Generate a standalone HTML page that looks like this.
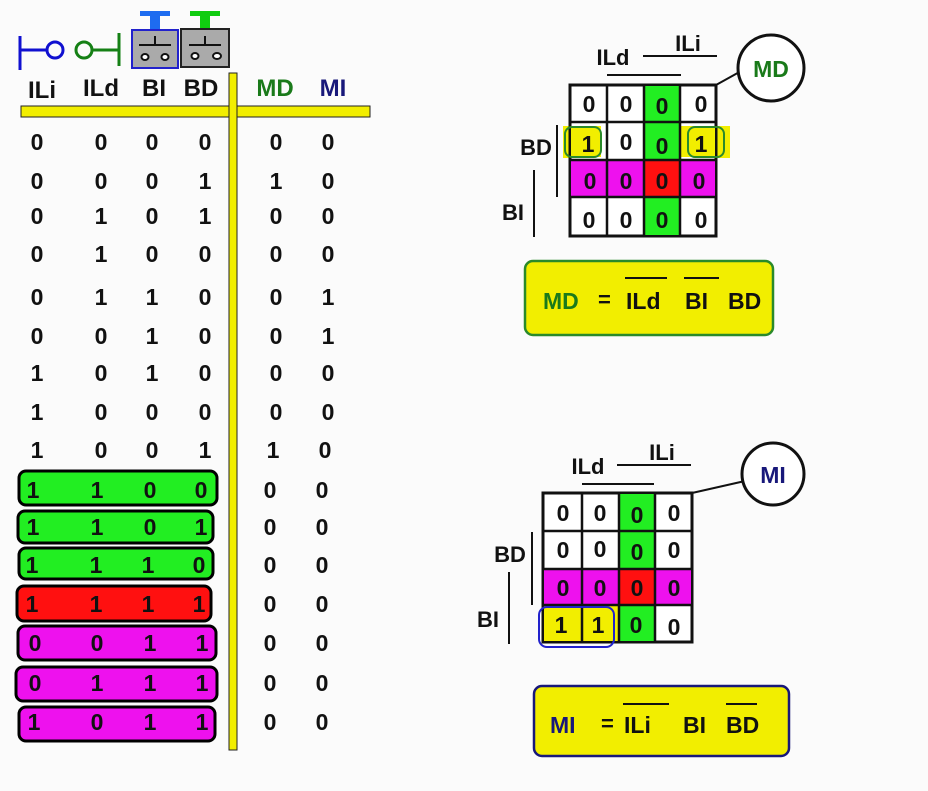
<!DOCTYPE html>
<html><head><style>
html,body{margin:0;padding:0;background:#fbfbfb;}
svg{display:block;}
text{font-family:"Liberation Sans",sans-serif;font-weight:bold;}
</style></head><body>
<svg width="928" height="791" viewBox="0 0 928 791" xmlns="http://www.w3.org/2000/svg">
<rect width="928" height="791" fill="#fbfbfb"/>
<!-- icons -->
<g stroke="#1010d0" stroke-width="3" fill="none">
<line x1="20" y1="36" x2="20" y2="70"/><line x1="20" y1="50" x2="46" y2="50"/><circle cx="55" cy="50" r="8"/>
</g>
<g stroke="#158015" stroke-width="3" fill="none">
<circle cx="84" cy="50" r="8"/><line x1="92" y1="50" x2="119" y2="50"/><line x1="119" y1="33" x2="119" y2="66"/>
</g>
<rect x="140" y="11" width="30" height="5" fill="#1e6cf0"/><rect x="150" y="16" width="10" height="14" fill="#1e6cf0"/>
<rect x="132" y="30" width="46" height="38" fill="#aaaaaa" stroke="#2222cc" stroke-width="2"/>
<rect x="190" y="11" width="30" height="5" fill="#10cc10"/><rect x="200" y="16" width="10" height="12" fill="#10cc10"/>
<rect x="181" y="29" width="48" height="38" fill="#aaaaaa" stroke="#222" stroke-width="2"/>
<g stroke="#111" stroke-width="2" fill="#fff">
<line x1="139" y1="45" x2="171" y2="45"/><line x1="155" y1="36" x2="155" y2="45"/>
<ellipse cx="145" cy="57" rx="3.5" ry="3"/><ellipse cx="165" cy="57" rx="3.5" ry="3"/>
<line x1="189" y1="45" x2="221" y2="45"/><line x1="205" y1="36" x2="205" y2="45"/>
<ellipse cx="195" cy="56" rx="3.5" ry="3"/><ellipse cx="217" cy="56" rx="4" ry="3"/>
</g>
<!-- yellow bars -->
<rect x="21" y="106" width="349" height="11" fill="#f2ee00" stroke="#222" stroke-width="1"/>
<rect x="229" y="73" width="8" height="677" fill="#f2ee00" stroke="#222" stroke-width="1"/>
<rect x="230" y="107" width="6" height="9" fill="#f2ee00"/>
<!-- headers -->
<g font-size="24" fill="#111" text-anchor="middle">
<text x="42" y="98">ILi</text><text x="101" y="96">ILd</text><text x="154" y="96">BI</text><text x="201" y="96">BD</text>
<text x="275" y="96" fill="#1a7a1a">MD</text><text x="333" y="96" fill="#18187a">MI</text>
</g>
<!-- highlight bars -->
<g stroke="#000" stroke-width="3">
<rect x="19" y="471" width="198" height="34" rx="7" fill="#22ee22"/>
<rect x="18" y="511" width="195" height="32" rx="7" fill="#22ee22"/>
<rect x="19" y="548" width="194" height="31" rx="7" fill="#22ee22"/>
<rect x="17" y="586" width="194" height="35" rx="7" fill="#ff1010"/>
<rect x="18" y="626" width="198" height="34" rx="7" fill="#ee11ee"/>
<rect x="16" y="667" width="201" height="34" rx="7" fill="#ee11ee"/>
<rect x="19" y="707" width="196" height="34" rx="7" fill="#ee11ee"/>
</g>
<g font-size="23" fill="#111" text-anchor="middle">
<text x="37" y="150">0</text><text x="101" y="150">0</text><text x="152" y="150">0</text><text x="205" y="150">0</text><text x="276" y="150">0</text><text x="328" y="150">0</text>
<text x="37" y="189">0</text><text x="101" y="189">0</text><text x="152" y="189">0</text><text x="205" y="189">1</text><text x="276" y="189">1</text><text x="328" y="189">0</text>
<text x="37" y="224">0</text><text x="101" y="224">1</text><text x="152" y="224">0</text><text x="205" y="224">1</text><text x="276" y="224">0</text><text x="328" y="224">0</text>
<text x="37" y="262">0</text><text x="101" y="262">1</text><text x="152" y="262">0</text><text x="205" y="262">0</text><text x="276" y="262">0</text><text x="328" y="262">0</text>
<text x="37" y="305">0</text><text x="101" y="305">1</text><text x="152" y="305">1</text><text x="205" y="305">0</text><text x="276" y="305">0</text><text x="328" y="305">1</text>
<text x="37" y="344">0</text><text x="101" y="344">0</text><text x="152" y="344">1</text><text x="205" y="344">0</text><text x="276" y="344">0</text><text x="328" y="344">1</text>
<text x="37" y="381">1</text><text x="101" y="381">0</text><text x="152" y="381">1</text><text x="205" y="381">0</text><text x="276" y="381">0</text><text x="328" y="381">0</text>
<text x="37" y="420">1</text><text x="101" y="420">0</text><text x="152" y="420">0</text><text x="205" y="420">0</text><text x="276" y="420">0</text><text x="328" y="420">0</text>
<text x="37" y="458">1</text><text x="101" y="458">0</text><text x="152" y="458">0</text><text x="205" y="458">1</text><text x="273" y="458">1</text><text x="325" y="458">0</text>
<text x="33" y="498">1</text><text x="97" y="498">1</text><text x="150" y="498">0</text><text x="201" y="498">0</text><text x="270" y="498">0</text><text x="322" y="498">0</text>
<text x="33" y="535">1</text><text x="97" y="535">1</text><text x="150" y="535">0</text><text x="201" y="535">1</text><text x="270" y="535">0</text><text x="322" y="535">0</text>
<text x="32" y="573">1</text><text x="96" y="573">1</text><text x="148" y="573">1</text><text x="199" y="573">0</text><text x="270" y="573">0</text><text x="322" y="573">0</text>
<text x="32" y="612">1</text><text x="96" y="612">1</text><text x="148" y="612">1</text><text x="199" y="612">1</text><text x="270" y="612">0</text><text x="322" y="612">0</text>
<text x="35" y="651">0</text><text x="97" y="651">0</text><text x="150" y="651">1</text><text x="202" y="651">1</text><text x="270" y="651">0</text><text x="322" y="651">0</text>
<text x="35" y="691">0</text><text x="97" y="691">1</text><text x="150" y="691">1</text><text x="202" y="691">1</text><text x="270" y="691">0</text><text x="322" y="691">0</text>
<text x="34" y="730">1</text><text x="97" y="730">0</text><text x="150" y="730">1</text><text x="202" y="730">1</text><text x="270" y="730">0</text><text x="322" y="730">0</text>
</g>

<!-- KMAP 1 -->
<g font-size="22" fill="#111" text-anchor="middle">
<text x="613" y="65">ILd</text><text x="688" y="51">ILi</text>
<text x="536" y="155">BD</text><text x="513" y="220">BI</text>
</g>
<g stroke="#111" stroke-width="2">
<line x1="643" y1="56" x2="717" y2="56"/><line x1="607" y1="75" x2="681" y2="75"/>
<line x1="557" y1="125" x2="557" y2="197"/><line x1="534" y1="170" x2="534" y2="237"/>
<line x1="716" y1="85" x2="743" y2="70"/>
</g>
<circle cx="771" cy="68" r="33" fill="#fff" stroke="#111" stroke-width="3"/>
<text x="771" y="77" font-size="23" fill="#1a7a1a" text-anchor="middle">MD</text>
<rect x="563" y="126" width="38" height="32" fill="#f2ee00"/>
<rect x="688" y="126" width="42" height="32" fill="#f2ee00"/>
<rect x="570" y="85" width="146" height="151" fill="#fff" stroke="#111" stroke-width="3"/>
<rect x="571" y="126" width="30" height="31" fill="#f2ee00"/>
<rect x="680" y="126" width="35" height="31" fill="#f2ee00"/>
<rect x="644" y="86" width="36" height="149" fill="#22ee22"/>
<rect x="571" y="160" width="144" height="37" fill="#ee11ee"/>
<rect x="644" y="160" width="36" height="37" fill="#ff1010"/>
<g stroke="#111" stroke-width="2.5">
<line x1="607" y1="85" x2="607" y2="236"/><line x1="644" y1="85" x2="644" y2="236"/><line x1="680" y1="85" x2="680" y2="236"/>
<line x1="570" y1="122" x2="716" y2="122"/><line x1="570" y1="160" x2="716" y2="160"/><line x1="570" y1="197" x2="716" y2="197"/>
</g>
<rect x="565" y="127" width="36" height="30" rx="7" fill="none" stroke="#2a8a2a" stroke-width="2"/>
<rect x="688" y="127" width="36" height="30" rx="7" fill="none" stroke="#2a8a2a" stroke-width="2"/>
<g font-size="23" fill="#111" text-anchor="middle">
<text x="589" y="112">0</text><text x="626" y="112">0</text><text x="662" y="114">0</text><text x="701" y="112">0</text>
<text x="588" y="152">1</text><text x="626" y="150">0</text><text x="662" y="154">0</text><text x="701" y="152">1</text>
<text x="590" y="189">0</text><text x="626" y="189">0</text><text x="662" y="189">0</text><text x="699" y="189">0</text>
<text x="589" y="228">0</text><text x="626" y="228">0</text><text x="662" y="228">0</text><text x="701" y="228">0</text>
</g>
<rect x="525" y="261" width="248" height="74" rx="8" fill="#f2ee00" stroke="#2a8a2a" stroke-width="2.5"/>
<text x="543" y="309" font-size="23" fill="#1a7a1a">MD</text>
<text x="598" y="307" font-size="22" fill="#111">=</text>
<text x="626" y="309" font-size="23" fill="#111">ILd</text>
<text x="685" y="309" font-size="23" fill="#111">BI</text>
<text x="728" y="309" font-size="23" fill="#111">BD</text>
<g stroke="#111" stroke-width="2"><line x1="625" y1="278" x2="667" y2="278"/><line x1="684" y1="278" x2="719" y2="278"/></g>

<!-- KMAP 2 -->
<g font-size="22" fill="#111" text-anchor="middle">
<text x="588" y="474">ILd</text><text x="662" y="460">ILi</text>
<text x="510" y="562">BD</text><text x="488" y="627">BI</text>
</g>
<g stroke="#111" stroke-width="2">
<line x1="617" y1="465" x2="691" y2="465"/><line x1="582" y1="484" x2="654" y2="484"/>
<line x1="532" y1="532" x2="532" y2="605"/><line x1="509" y1="572" x2="509" y2="644"/>
<line x1="692" y1="493" x2="745" y2="481"/>
</g>
<circle cx="773" cy="474" r="31" fill="#fff" stroke="#111" stroke-width="3"/>
<text x="773" y="483" font-size="23" fill="#18187a" text-anchor="middle">MI</text>
<rect x="543" y="493" width="149" height="149" fill="#fff" stroke="#111" stroke-width="3"/>
<rect x="619" y="494" width="36" height="147" fill="#22ee22"/>
<rect x="544" y="569" width="147" height="36" fill="#ee11ee"/>
<rect x="619" y="569" width="36" height="36" fill="#ff1010"/>
<rect x="544" y="606" width="74" height="35" fill="#f2ee00"/>
<g stroke="#111" stroke-width="2.5">
<line x1="582" y1="493" x2="582" y2="642"/><line x1="619" y1="493" x2="619" y2="642"/><line x1="655" y1="493" x2="655" y2="642"/>
<line x1="543" y1="531" x2="692" y2="531"/><line x1="543" y1="569" x2="692" y2="569"/><line x1="543" y1="605" x2="692" y2="605"/>
</g>
<rect x="539" y="607" width="75" height="40" rx="8" fill="none" stroke="#2222cc" stroke-width="2"/>
<g font-size="23" fill="#111" text-anchor="middle">
<text x="563" y="521">0</text><text x="600" y="521">0</text><text x="637" y="523">0</text><text x="674" y="521">0</text>
<text x="563" y="558">0</text><text x="600" y="557">0</text><text x="637" y="560">0</text><text x="674" y="558">0</text>
<text x="563" y="596">0</text><text x="600" y="596">0</text><text x="637" y="596">0</text><text x="674" y="596">0</text>
<text x="561" y="633">1</text><text x="598" y="633">1</text><text x="636" y="633">0</text><text x="674" y="635">0</text>
</g>
<rect x="534" y="686" width="255" height="70" rx="8" fill="#f2ee00" stroke="#18187a" stroke-width="2.5"/>
<text x="550" y="733" font-size="23" fill="#18187a">MI</text>
<text x="601" y="731" font-size="22" fill="#111">=</text>
<text x="624" y="733" font-size="23" fill="#111">ILi</text>
<text x="683" y="733" font-size="23" fill="#111">BI</text>
<text x="726" y="733" font-size="23" fill="#111">BD</text>
<g stroke="#111" stroke-width="2"><line x1="623" y1="704" x2="669" y2="704"/><line x1="726" y1="704" x2="757" y2="704"/></g>
</svg>
</body></html>
